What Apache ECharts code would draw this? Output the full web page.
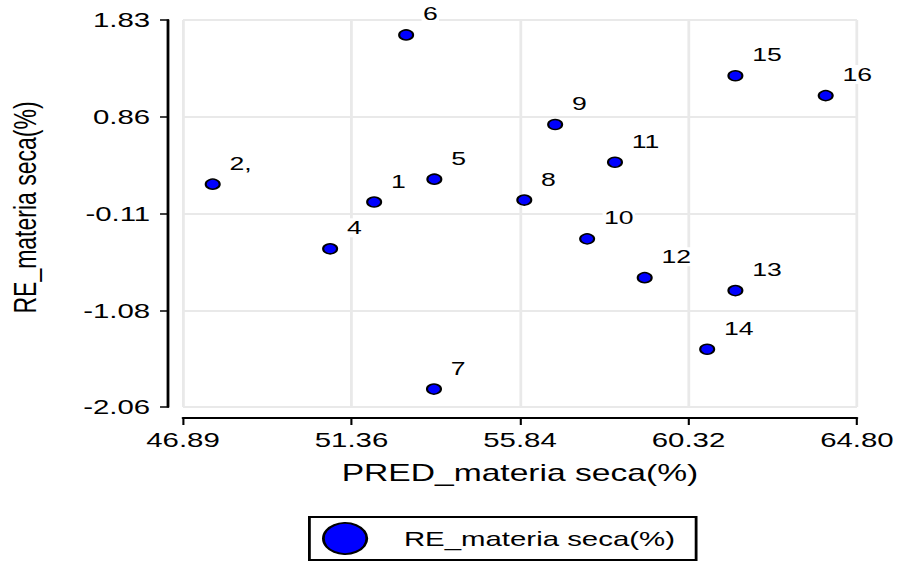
<!DOCTYPE html>
<html>
<head>
<meta charset="utf-8">
<script src="https://cdn.jsdelivr.net/npm/echarts@6/dist/echarts.min.js"></script>
<style>
  html, body { margin: 0; padding: 0; background: #fff; overflow: hidden; }
  #wrap { width: 900px; height: 565px; overflow: hidden; position: relative; }
  #chart { position: absolute; left: 0; top: 0; width: 643px; height: 565px; transform: scaleX(1.4); transform-origin: 0 0; }
</style>
</head>
<body>
<div id="wrap"><div id="chart"></div></div>
<script>
// ---- data ----
const pointIds = ['1', '2,', '4', '5', '6', '7', '8', '9', '10', '11', '12', '13', '14', '15', '16'];
const predValues = [51.97, 47.68, 50.80, 53.57, 52.82, 53.56, 55.96, 56.78, 57.63, 58.37, 59.16, 61.57, 60.82, 61.57, 63.97];
const reValues = [0.00, 0.18, -0.47, 0.23, 1.68, -1.88, 0.02, 0.78, -0.37, 0.40, -0.76, -0.89, -1.48, 1.27, 1.07];
const xTickValues = [46.89, 51.3675, 55.845, 60.3225, 64.80];
const xTickLabels = ['46.89', '51.36', '55.84', '60.32', '64.80'];
const yTickValues = [-2.06, -1.0875, -0.115, 0.8575, 1.83];
const yTickLabels = ['-2.06', '-1.08', '-0.11', '0.86', '1.83'];
const seriesName = 'RE_materia seca(%)';
const xTitle = 'PRED_materia seca(%)';
const yTitle = 'RE_materia seca(%)';

function nearestLabel(vals, labels, v) {
  let best = 0;
  for (let i = 1; i < vals.length; i++) {
    if (Math.abs(vals[i] - v) < Math.abs(vals[best] - v)) best = i;
  }
  return labels[best];
}

const chart = echarts.init(document.getElementById('chart'), null, { renderer: 'svg' });
const font = 'Liberation Sans, Arial, sans-serif';
const points = predValues.map((x, i) => [x, reValues[i]]);

chart.setOption({
  animation: false,
  backgroundColor: '#ffffff',
  grid: { left: 130.7, right: 30.9, top: 20, bottom: 158, containLabel: false, outerBoundsMode: 'none' },
  xAxis: {
    type: 'value',
    min: 46.89, max: 64.80,
    offset: 11,
    name: xTitle,
    nameLocation: 'middle',
    nameGap: 43,
    nameTextStyle: { fontSize: 24, color: '#000', fontFamily: font },
    axisLine: { show: true, onZero: false, lineStyle: { color: '#000', width: 2 } },
    axisTick: { show: true, length: 7, lineStyle: { color: '#000', width: 1.5 }, customValues: xTickValues },
    axisLabel: {
      customValues: xTickValues,
      fontSize: 21, color: '#000', fontFamily: font, margin: 11,
      formatter: (v) => nearestLabel(xTickValues, xTickLabels, v)
    },
    splitLine: { show: true, lineStyle: { color: '#e9e9e9', width: 2 } }
  },
  yAxis: {
    type: 'value',
    min: -2.06, max: 1.83,
    offset: 11.4,
    name: yTitle,
    nameLocation: 'middle',
    nameGap: 90,
    nameTextStyle: { fontSize: 23, color: '#000', fontFamily: font, padding: [0, 0, 0, 12] },
    axisLine: { show: true, onZero: false, lineStyle: { color: '#000', width: 2 } },
    axisTick: { show: true, length: 5, lineStyle: { color: '#000', width: 1.5 }, customValues: yTickValues },
    axisLabel: {
      customValues: yTickValues,
      fontSize: 21, color: '#000', fontFamily: font, margin: 12,
      formatter: (v) => nearestLabel(yTickValues, yTickLabels, v)
    },
    splitLine: { show: true, lineStyle: { color: '#e9e9e9', width: 2 } }
  },
  legend: {
    show: true,
    left: 221, top: 517,
    data: [seriesName],
    itemWidth: 32, itemHeight: 31,
    padding: [5, 15, 5, 9],
    borderColor: '#000', borderWidth: 2,
    textStyle: { fontSize: 21, color: '#000', fontFamily: font, padding: [0, 0, 0, 21] }
  },
  series: [{
    name: seriesName,
    type: 'scatter',
    symbol: 'circle',
    symbolSize: 10,
    clip: false,
    z: 3,
    itemStyle: { color: '#0000ff', borderColor: '#000', borderWidth: 1.5, opacity: 1 },
    data: points
  }, {
    name: 'labels',
    type: 'custom',
    silent: true,
    z: 4,
    encode: { x: 0, y: 1 },
    data: points,
    renderItem: function (params, api) {
      const p = api.coord([api.value(0), api.value(1)]);
      return {
        type: 'text',
        x: p[0] + 11,
        y: p[1] - 21,
        style: {
          text: pointIds[params.dataIndex],
          fontSize: 19,
          fontFamily: font,
          fill: '#000',
          align: 'left',
          verticalAlign: 'middle',
          backgroundColor: '#ffffff',
          padding: [0, 1, 0, 1]
        }
      };
    }
  }]
});
</script>
</body>
</html>
